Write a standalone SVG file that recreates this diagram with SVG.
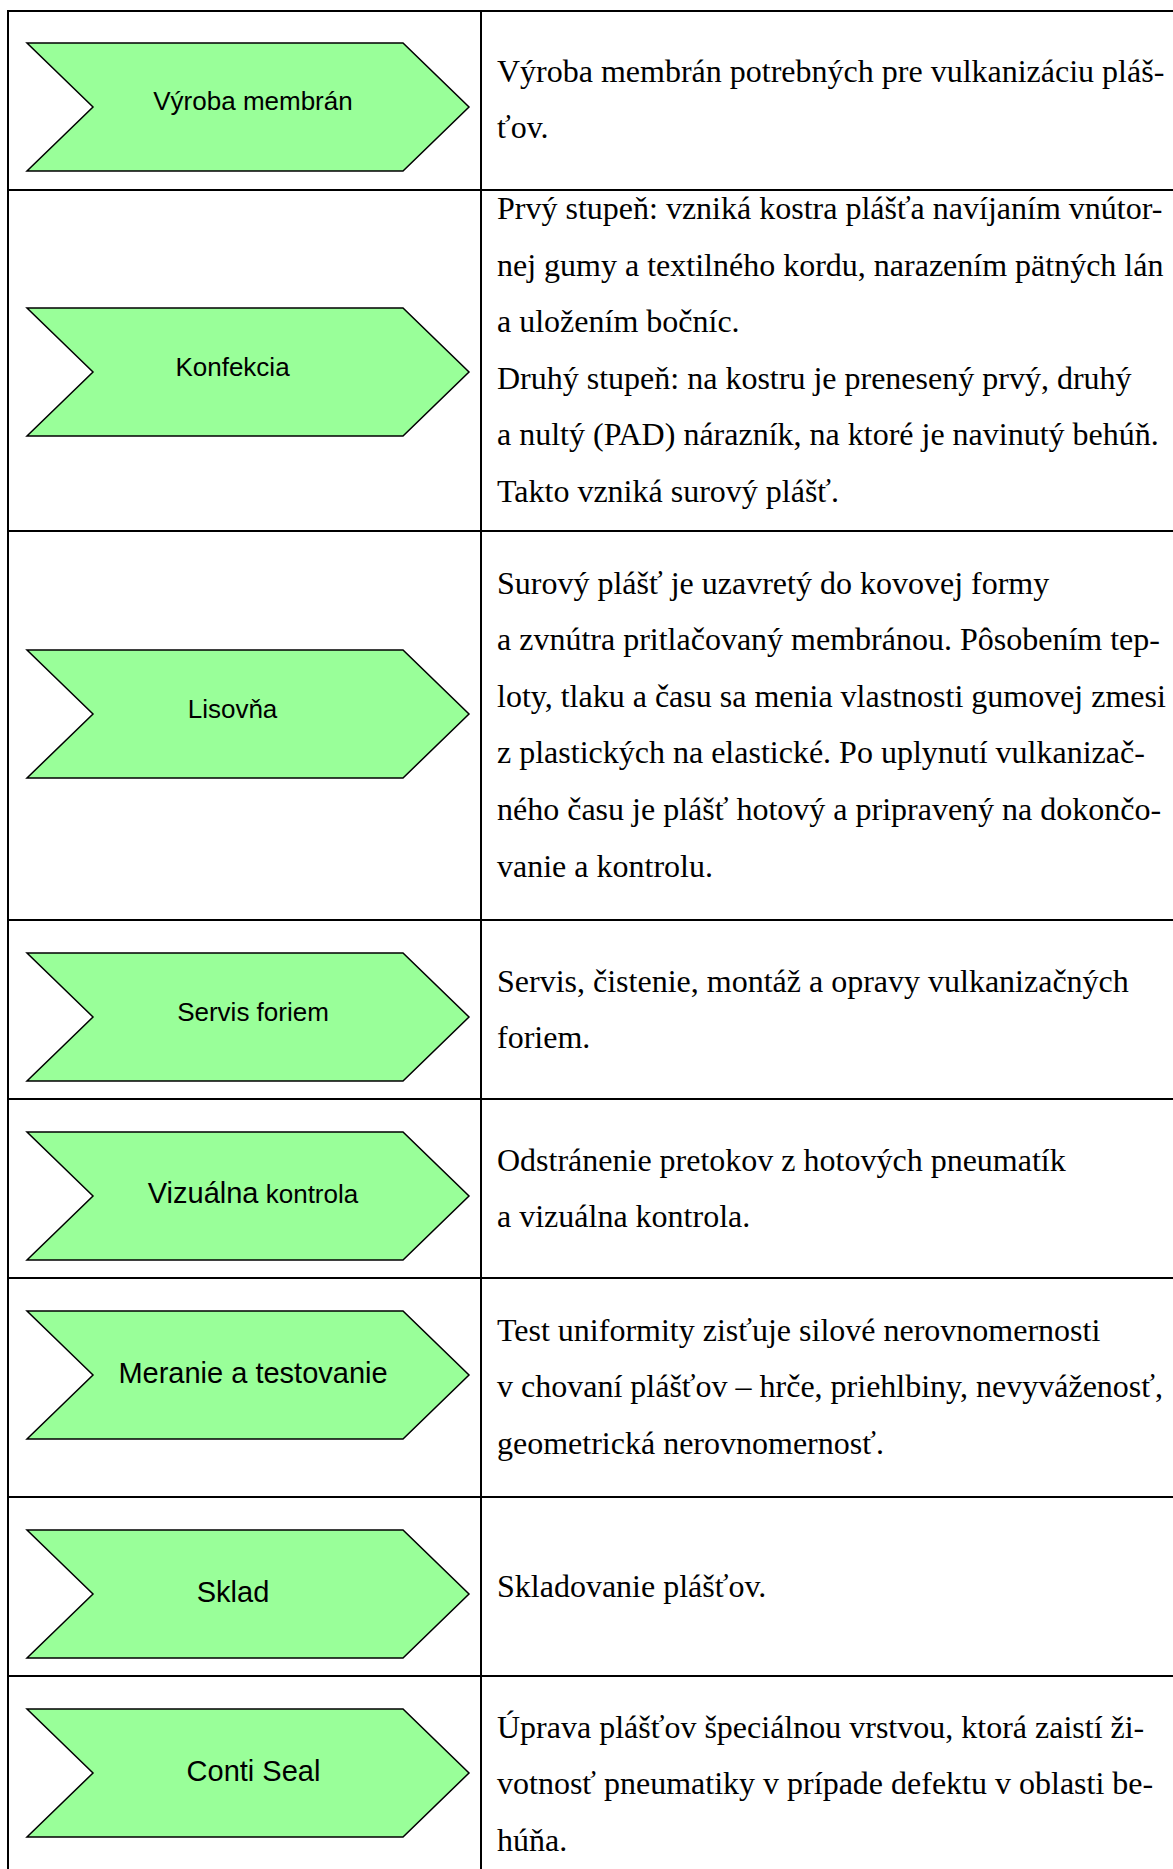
<svg xmlns="http://www.w3.org/2000/svg" width="1173" height="1869" viewBox="0 0 1173 1869">
  <defs>
    <style>
      .grid line { stroke: #000; stroke-width: 2; }
      .step { fill: #99ff99; stroke: #000; stroke-width: 1.5; stroke-linejoin: miter; }
      .label { font-family: "Liberation Sans", Arial, sans-serif; font-size: 26px; fill: #000; text-anchor: middle; }
      .label.big { font-size: 29px; }
      .desc { font-family: "Liberation Serif", "Times New Roman", serif; font-size: 32px; fill: #000; }
    </style>
    <!-- process step chevron, 442 x 128, origin at top-left -->
    <polygon id="chevron" points="0,0 376,0 442,64 376,128 0,128 66,64"/>
  </defs>

  <rect x="0" y="0" width="1173" height="1869" fill="#fff"/>

  <!-- table grid -->
  <g id="grid" class="grid">
    <line x1="8" y1="11" x2="1173" y2="11"/>
    <line x1="8" y1="10" x2="8" y2="1869"/>
    <line x1="481" y1="10" x2="481" y2="1869"/>
    <line x1="8" y1="190" x2="1173" y2="190"/>
    <line x1="8" y1="531" x2="1173" y2="531"/>
    <line x1="8" y1="920" x2="1173" y2="920"/>
    <line x1="8" y1="1099" x2="1173" y2="1099"/>
    <line x1="8" y1="1278" x2="1173" y2="1278"/>
    <line x1="8" y1="1497" x2="1173" y2="1497"/>
    <line x1="8" y1="1676" x2="1173" y2="1676"/>
  </g>

  <!-- 1 -->
  <g id="vyroba-membran">
    <use href="#chevron" class="step" x="27" y="43"/>
    <text class="label" x="253" y="110">Výroba membrán</text>
    <text class="desc" x="497" y="81.5">Výroba membrán potrebných pre vulkanizáciu pláš-</text>
    <text class="desc" x="497" y="138.1">ťov.</text>
  </g>

  <!-- 2 -->
  <g id="konfekcia">
    <use href="#chevron" class="step" x="27" y="308"/>
    <text class="label" x="232.5" y="376">Konfekcia</text>
    <text class="desc" x="497" y="219">Prvý stupeň: vzniká kostra plášťa navíjaním vnútor-</text>
    <text class="desc" x="497" y="275.6">nej gumy a textilného kordu, narazením pätných lán</text>
    <text class="desc" x="497" y="332.2">a uložením bočníc.</text>
    <text class="desc" x="497" y="388.8">Druhý stupeň: na kostru je prenesený prvý, druhý</text>
    <text class="desc" x="497" y="445.4">a nultý (PAD) nárazník, na ktoré je navinutý behúň.</text>
    <text class="desc" x="497" y="502">Takto vzniká surový plášť.</text>
  </g>

  <!-- 3 -->
  <g id="lisovna">
    <use href="#chevron" class="step" x="27" y="650"/>
    <text class="label" x="232.5" y="718">Lisovňa</text>
    <text class="desc" x="497" y="593.5">Surový plášť je uzavretý do kovovej formy</text>
    <text class="desc" x="497" y="650.1">a zvnútra pritlačovaný membránou. Pôsobením tep-</text>
    <text class="desc" x="497" y="706.7">loty, tlaku a času sa menia vlastnosti gumovej zmesi</text>
    <text class="desc" x="497" y="763.3">z plastických na elastické. Po uplynutí vulkanizač-</text>
    <text class="desc" x="497" y="819.9">ného času je plášť hotový a pripravený na dokončo-</text>
    <text class="desc" x="497" y="876.5">vanie a kontrolu.</text>
  </g>

  <!-- 4 -->
  <g id="servis-foriem">
    <use href="#chevron" class="step" x="27" y="953"/>
    <text class="label" x="253" y="1021">Servis foriem</text>
    <text class="desc" x="497" y="991.5">Servis, čistenie, montáž a opravy vulkanizačných</text>
    <text class="desc" x="497" y="1048.1">foriem.</text>
  </g>

  <!-- 5 -->
  <g id="vizualna-kontrola">
    <use href="#chevron" class="step" x="27" y="1132"/>
    <text class="label big" x="253" y="1203">Vizuálna<tspan font-size="26"> kontrola</tspan></text>
    <text class="desc" x="497" y="1170.5">Odstránenie pretokov z hotových pneumatík</text>
    <text class="desc" x="497" y="1227.1">a vizuálna kontrola.</text>
  </g>

  <!-- 6 -->
  <g id="meranie-testovanie">
    <use href="#chevron" class="step" x="27" y="1311"/>
    <text class="label big" x="253" y="1382.5">Meranie a testovanie</text>
    <text class="desc" x="497" y="1340.5">Test uniformity zisťuje silové nerovnomernosti</text>
    <text class="desc" x="497" y="1397.1">v chovaní plášťov – hrče, priehlbiny, nevyváženosť,</text>
    <text class="desc" x="497" y="1453.7">geometrická nerovnomernosť.</text>
  </g>

  <!-- 7 -->
  <g id="sklad">
    <use href="#chevron" class="step" x="27" y="1530"/>
    <text class="label big" x="233" y="1601.5">Sklad</text>
    <text class="desc" x="497" y="1596.5">Skladovanie plášťov.</text>
  </g>

  <!-- 8 -->
  <g id="conti-seal">
    <use href="#chevron" class="step" x="27" y="1709"/>
    <text class="label big" x="253.5" y="1780.5">Conti Seal</text>
    <text class="desc" x="497" y="1737.5">Úprava plášťov špeciálnou vrstvou, ktorá zaistí ži-</text>
    <text class="desc" x="497" y="1794.1">votnosť pneumatiky v prípade defektu v oblasti be-</text>
    <text class="desc" x="497" y="1850.7">húňa.</text>
  </g>
</svg>
